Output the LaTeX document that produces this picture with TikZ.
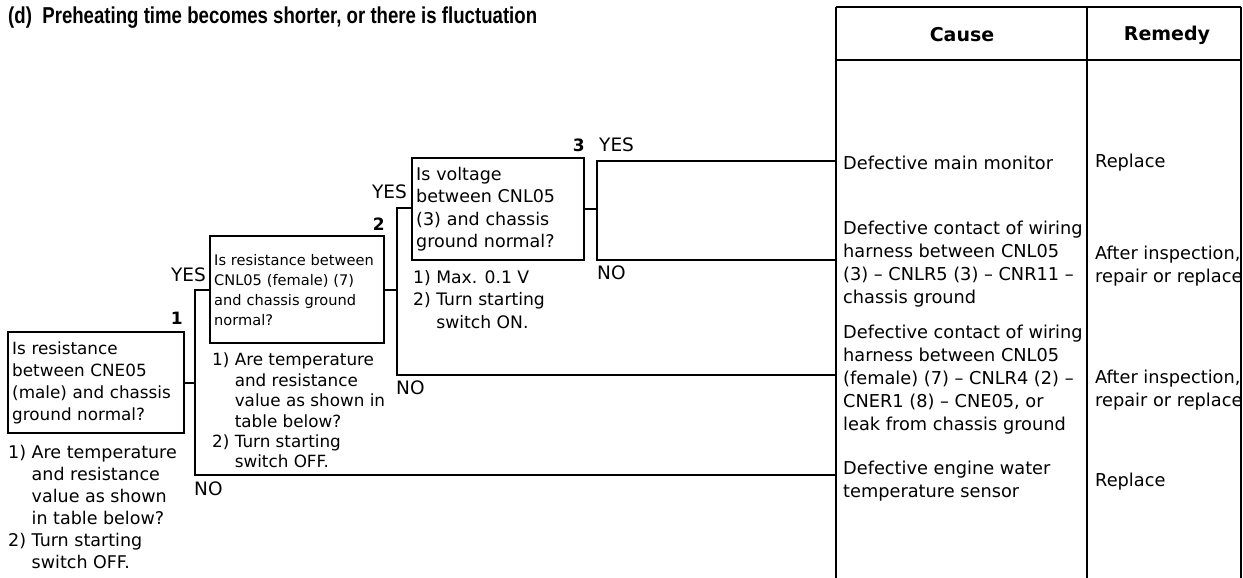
\documentclass[tikz,border=0pt]{standalone}
\usepackage{fontspec}
\setmainfont{DejaVu Sans}
\newfontfamily\titlefont{Liberation Sans}
\begin{document}
\begin{tikzpicture}[x=1pt,y=-1pt,
  wire/.style={line width=2.4pt},
  qbox/.style={draw,line width=2.4pt,rectangle,align=left,inner xsep=4pt,inner ysep=0pt,anchor=north west},
  note/.style={align=left,inner sep=0pt,anchor=north west},
  lbl/.style={inner sep=0pt,font=\fontsize{18.5}{20}\selectfont},
  num/.style={inner sep=0pt,font=\bfseries\fontsize{17}{20}\selectfont},
  cause/.style={align=left,inner sep=0pt,font=\fontsize{17.75}{23}\selectfont},
  head/.style={inner sep=0pt,font=\bfseries\fontsize{19}{22}\selectfont}
]
\useasboundingbox (0,0) rectangle (1243,578);

% title
\node[inner sep=0pt,anchor=base west] (title) at (8,24)
  {\scalebox{0.81}[1]{\titlefont\bfseries\fontsize{23}{26}\selectfont (d)\ \ Preheating time becomes shorter, or there is fluctuation}};

% table
\draw[wire] (836,7) -- (1241,7);
\draw[wire] (836,60) -- (1241,60);
\draw[wire] (836,7) -- (836,578);
\draw[wire] (1087,7) -- (1087,578);
\draw[wire] (1241,7) -- (1241,578);
\coordinate (tl) at (836,0);
\node[head] (hcause) at (962,35) {Cause};
\node[head] (hrem) at (1167,35) {Remedy};

% causes
\node[cause,anchor=west] (c1) at (843,163) {Defective main monitor};
\node[cause,anchor=north west] (c2) at (843,220.5) {Defective contact of wiring\\harness between CNL05\\(3) -- CNLR5 (3) -- CNR11 --\\chassis ground};
\node[cause,anchor=north west] (c3) at (843,324.5) {Defective contact of wiring\\harness between CNL05\\(female) (7) -- CNLR4 (2) --\\CNER1 (8) -- CNE05, or\\leak from chassis ground};
\node[cause,anchor=north west] (c4) at (843,460.5) {Defective engine water\\temperature sensor};

% remedies
\node[cause,anchor=west] (r1) at (1095,163) {Replace};
\node[cause,anchor=north west] (r2) at (1095,245.5) {After inspection,\\repair or replace};
\node[cause,anchor=north west] (r3) at (1095,369.5) {After inspection,\\repair or replace};
\node[cause,anchor=west] (r4) at (1095,482) {Replace};

% question boxes
\node[qbox,minimum width=176pt,minimum height=101pt,text width=168pt,font=\fontsize{16.8}{22}\selectfont] (b1) at (7,331)
  {Is resistance\\between CNE05\\(male) and chassis\\ground normal?};
\node[qbox,minimum width=174pt,minimum height=107pt,text width=166pt,font=\fontsize{14.6}{20}\selectfont] (b2) at (209,235)
  {Is resistance between\\CNL05 (female) (7)\\and chassis ground\\normal?};
\node[qbox,minimum width=172pt,minimum height=102pt,text width=164pt,font=\fontsize{17.5}{22.5}\selectfont] (b3) at (411,157)
  {Is voltage\\between CNL05\\(3) and chassis\\ground normal?};

% notes
\node[note,font=\fontsize{17.5}{22}\selectfont] (n1) at (8,445)
  {1) Are temperature\\\phantom{1) }and resistance\\\phantom{1) }value as shown\\\phantom{1) }in table below?\\2) Turn starting\\\phantom{1) }switch OFF.};
\node[note,font=\fontsize{16.8}{20.4}\selectfont] (n2) at (212,353)
  {1) Are temperature\\\phantom{1) }and resistance\\\phantom{1) }value as shown in\\\phantom{1) }table below?\\2) Turn starting\\\phantom{1) }switch OFF.};
\node[note,font=\fontsize{17.2}{22.5}\selectfont] (n3) at (413,270)
  {1) Max. 0.1 V\\2) Turn starting\\\phantom{1) }switch ON.};

% numbers and labels
\node[num,anchor=east] (k1) at (183,318) {1};
\node[num,anchor=east] (k2) at (385,224) {2};
\node[num,anchor=east] (k3) at (585,145) {3};
\node[lbl,anchor=east] (y1) at (206,275) {YES};
\node[lbl,anchor=east] (y2) at (407,192) {YES};
\node[lbl,anchor=west] (y3) at (599,145) {YES};
\node[lbl,anchor=west] (no1) at (194,489) {NO};
\node[lbl,anchor=west] (no2) at (396,388) {NO};
\node[lbl,anchor=west] (no3) at (597,273) {NO};

% junctions
\coordinate (j1t) at (195,290);
\coordinate (j1b) at (195,475);
\coordinate (j2t) at (397,208);
\coordinate (j2b) at (397,375);
\coordinate (j3t) at (597,161);
\coordinate (j3b) at (597,260);

% connectors
\draw[wire] (b1.east) -- (b1.east -| j1t);
\draw[wire] (b2.west |- j1t) -- (j1t) -- (j1b) -- (j1b -| tl);
\draw[wire] (b2.east) -- (b2.east -| j2t);
\draw[wire] (b3.west |- j2t) -- (j2t) -- (j2b) -- (j2b -| tl);
\draw[wire] (b3.east) -- (b3.east -| j3t);
\draw[wire] (j3t -| tl) -- (j3t) -- (j3b) -- (j3b -| tl);
\end{tikzpicture}
\end{document}
